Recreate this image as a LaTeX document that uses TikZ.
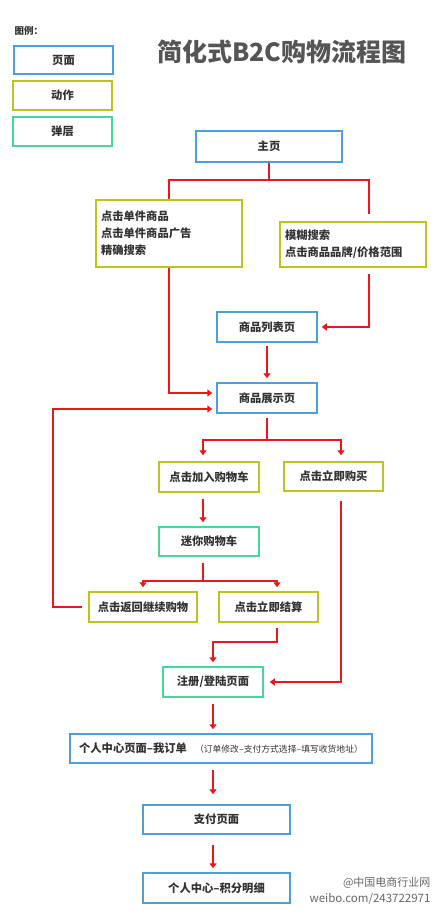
\documentclass[tikz,border=0pt]{standalone}
\usepackage{fontspec}
\setmainfont{Noto Sans CJK SC}
\newfontfamily\wmfont{Noto Sans CJK SC}
\usetikzlibrary{arrows.meta}
\definecolor{pageblue}{RGB}{75,159,219}
\definecolor{actolive}{RGB}{190,196,30}
\definecolor{layergreen}{RGB}{70,215,155}
\definecolor{flowred}{RGB}{235,22,30}
\definecolor{titlegray}{RGB}{85,85,85}
\tikzset{
  box/.style={draw,line width=1.5pt,minimum height=30pt,inner sep=2pt,
    font=\fontsize{11.3}{17}\selectfont\bfseries,text=black!80},
  pagebox/.style={box,draw=pageblue},
  actbox/.style={box,draw=actolive},
  layerbox/.style={box,draw=layergreen},
  line/.style={draw=flowred,line width=1.6pt},
  arrow/.style={line,-{Triangle[width=7pt,length=5pt]},shorten >=4pt}
}
\begin{document}
\begin{tikzpicture}[x=1pt,y=-1pt]
\useasboundingbox (0,0) rectangle (440,913);
% legend and title
\node[anchor=west,font=\fontsize{9.5}{11}\selectfont\bfseries,text=black!80] (legend) at (11,31) {图例：};
\node[pagebox,minimum width=99pt,minimum height=28pt] (lgpage) at (63.5,60) {页面};
\node[actbox,minimum width=99pt,minimum height=29pt] (lgact) at (62.5,95.5) {动作};
\node[layerbox,minimum width=99pt,minimum height=29pt] (lglayer) at (62.5,131.5) {弹层};
\node[font=\fontsize{25}{28}\selectfont\bfseries,text=titlegray] (title) at (282,52) {简化式B2C购物流程图};
% pages and actions
\node[pagebox,minimum width=146pt,minimum height=31pt] (home) at (269,146.5) {主页};
\node[actbox,minimum width=146pt,minimum height=67pt,align=left,text width=136pt] (pick) at (169,233.5)
  {点击单件商品\\点击单件商品广告\\精确搜索};
\node[actbox,minimum width=146pt,minimum height=45pt,align=left,text width=136pt] (search) at (353,244.5)
  {模糊搜索\\点击商品品牌/价格范围};
\node[pagebox,minimum width=100pt] (list) at (267,327) {商品列表页};
\node[pagebox,minimum width=100pt] (show) at (267,398) {商品展示页};
\node[actbox,minimum width=100pt] (addcart) at (209,477) {点击加入购物车};
\node[actbox,minimum width=99pt,minimum height=29pt] (buynow) at (333.5,476.5) {点击立即购买};
\node[layerbox,minimum width=100pt,minimum height=29pt] (mini) at (209,541.5) {迷你购物车};
\node[actbox,minimum width=108pt] (back) at (143,607) {点击返回继续购物};
\node[actbox,minimum width=99pt] (settle) at (268.5,607) {点击立即结算};
\node[layerbox,minimum width=100pt] (login) at (213,682) {注册/登陆页面};
\node[pagebox,minimum width=302pt,minimum height=29pt] (order) at (221,748.5)
  {个人中心页面–我订单\hspace{8pt}{\fontsize{8.8}{9}\selectfont\mdseries（订单修改–支付方式选择–填写收货地址）}};
\node[pagebox,minimum width=147pt,minimum height=29pt] (pay) at (216.5,819.5) {支付页面};
\node[pagebox,minimum width=147pt] (points) at (216.5,888) {个人中心–积分明细};
% connectors
\coordinate (fork1) at ([yshift=-17pt]home.south);
\draw[line] (home.south) -- (fork1);
\draw[line] (pick.north) |- (fork1) -| ([xshift=16pt,yshift=7pt]search.north);
\draw[arrow] ([xshift=16pt,yshift=-6pt]search.south) |- (list.east);
\draw[arrow] ([yshift=-3pt]list.south) -- (show.north);
\draw[arrow] (pick.south) |- ([yshift=5pt]show.west);
\draw[arrow] ([xshift=-6pt]back.west) -- ++(-29,0) |- ([yshift=-11pt]show.west);
\coordinate (fork2) at ([yshift=-26pt]show.south);
\draw[line] ([yshift=-4pt]show.south) -- (fork2);
\draw[arrow,shorten >=6pt] (fork2) -| ([xshift=-6pt]addcart.north);
\draw[arrow,shorten >=6pt] (fork2) -| ([xshift=7.5pt]buynow.north);
\draw[arrow] ([xshift=-6pt,yshift=-6pt]addcart.south) -- ([xshift=-6pt]mini.north);
\coordinate (fork3) at ([xshift=-6pt,yshift=-24pt]mini.south);
\draw[line] ([xshift=-6pt,yshift=-6pt]mini.south) -- (fork3);
\draw[arrow,shorten >=4pt] (fork3) -| (back.north);
\draw[arrow,shorten >=4pt] (fork3) -| ([xshift=8.5pt]settle.north);
\draw[arrow] ([xshift=8.5pt,yshift=-5pt]settle.south) -- ++(0,14) -| (login.north);
\draw[arrow,shorten >=6pt] ([xshift=7.5pt,yshift=-9pt]buynow.south) |- (login.east);
\draw[arrow] ([yshift=-6pt]login.south) -- (order.north -| login.south);
\draw[arrow,shorten >=10pt] ([yshift=-6pt]order.south -| login.south) -- (pay.north -| login.south);
\draw[arrow] ([yshift=-10pt]pay.south -| login.south) -- (points.north -| login.south);
% watermark
\node[anchor=east,font=\wmfont\fontsize{11}{13}\selectfont,text=black!60] (wmname) at (434,883) {@中国电商行业网};
\node[anchor=east,font=\wmfont\fontsize{11.5}{13}\selectfont,text=black!60] (wmurl) at (434,899) {weibo.com/243722971};
\end{tikzpicture}
\end{document}
